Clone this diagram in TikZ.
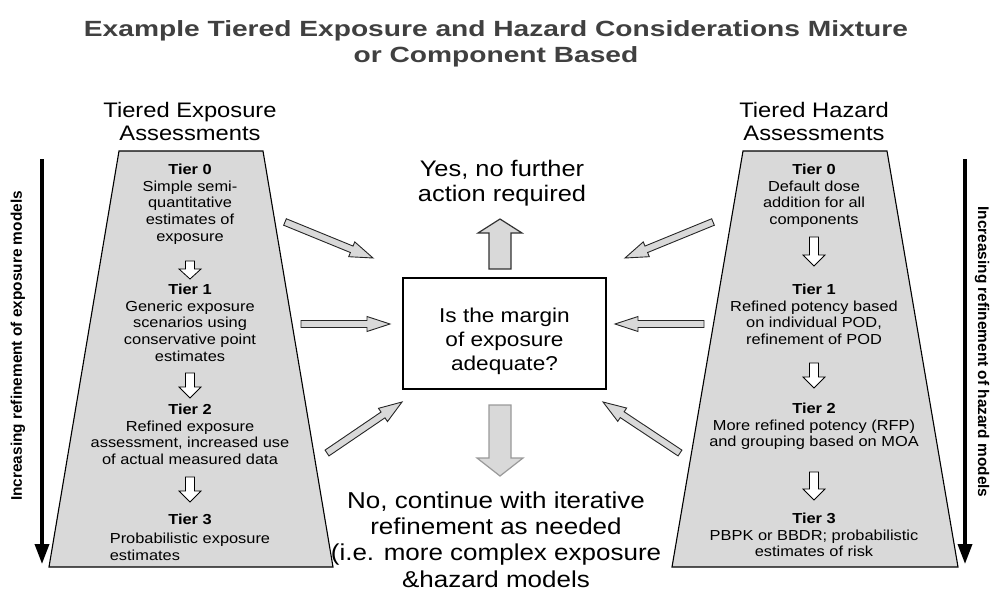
\documentclass[tikz,border=0pt]{standalone}
\usepackage{fontspec}
\setmainfont{Liberation Sans}[FakeStretch=1.13]
\newfontfamily\rotfont{Liberation Sans}
\newfontfamily\titlefont{Liberation Sans}[FakeStretch=1.28]
\usetikzlibrary{calc,arrows.meta}
\definecolor{panel}{RGB}{217,217,217}
\definecolor{titlegray}{RGB}{64,64,64}
% #1 style, #2 tail, #3 tip, #4 half shaft, #5 half head, #6 head length
\newcommand{\blockarrow}[6]{%
  \coordinate (ba-h) at ($(#3)!#6!(#2)$);
  \draw[#1] ($(#2)!#4!90:(#3)$) -- ($(ba-h)!#4!90:(#3)$) -- ($(ba-h)!#5!90:(#3)$) -- (#3)
    -- ($(ba-h)!#5!-90:(#3)$) -- ($(ba-h)!#4!-90:(#3)$) -- ($(#2)!#4!-90:(#3)$) -- cycle;
}
\begin{document}
\begin{tikzpicture}[x=1pt,y=-1pt,line join=miter,
  tier/.style={font={\fontsize{14.5}{16.8}\selectfont},align=center,inner sep=0pt,anchor=north},
  tierhead/.style={font={\bfseries\fontsize{14.5}{16.8}\selectfont},inner sep=0pt,anchor=base},
  header/.style={font={\fontsize{21}{23}\selectfont},align=center,inner sep=0pt,anchor=north},
  answer/.style={align=center,inner sep=0pt,anchor=north},
  sidelabel/.style={font={\rotfont\bfseries\fontsize{15.4}{17}\selectfont},inner sep=0pt},
  panelshape/.style={draw=black,fill=panel,line width=1.1pt},
  diag/.style={draw=black!85,fill=panel,line width=0.9pt},
  small/.style={draw=black,fill=white,line width=0.8pt},
  upblock/.style={draw=black!80,fill=panel,line width=1.2pt},
  downblock/.style={draw=black!40,fill=panel,line width=1.2pt},
  sidearrow/.style={line width=3.5pt,-{Triangle[length=20pt,width=14pt]}}]
\useasboundingbox (0,0) rectangle (992,591);

% title
\node[anchor=north,align=center,inner sep=0pt,text=titlegray,
  font={\titlefont\bfseries\fontsize{22}{26}\selectfont}] (title) at (496,20.2)
  {Example Tiered Exposure and Hazard Considerations Mixture\\or Component Based};

% panels
\coordinate (l1) at (119,151); \coordinate (l2) at (263,151);
\coordinate (l3) at (333,567); \coordinate (l4) at (49,567);
\coordinate (r1) at (743,151); \coordinate (r2) at (887,151);
\coordinate (r3) at (958,567); \coordinate (r4) at (672,567);
\draw[panelshape] (l1) -- (l2) -- (l3) -- (l4) -- cycle;
\draw[panelshape] (r1) -- (r2) -- (r3) -- (r4) -- cycle;

% headers
\node[header] (hexp) at (190,101.9) {Tiered Exposure\\Assessments};
\node[header] (hhaz) at (814,101.9) {Tiered Hazard\\Assessments};

% side arrows and labels
\coordinate (ls) at (42,159); \coordinate (le) at (42,564);
\coordinate (rs) at (965,159); \coordinate (re) at (965,564);
\draw[sidearrow] (ls) -- (le);
\draw[sidearrow] (rs) -- (re);
\node[sidelabel,rotate=90] (lexp) at (18,346) {Increasing refinement of exposure models};
\node[sidelabel,rotate=-90] (lhaz) at (982,352) {Increasing refinement of hazard models};

% exposure tiers
\node[tier] (e0) at (190,163.6) {\textbf{Tier 0}\\Simple semi-\\quantitative\\estimates of\\exposure};
\node[tier] (e1) at (190,283.6) {\textbf{Tier 1}\\Generic exposure\\scenarios using\\conservative point\\estimates};
\node[tier] (e2) at (190,403.6) {\textbf{Tier 2}\\Refined exposure\\assessment, increased use\\of actual measured data};
\node[tierhead] (e3h) at (190,524) {Tier 3};
\node[tier,align=left] (e3) at (190,532.6) {Probabilistic exposure\\estimates};

% hazard tiers
\node[tier] (z0) at (814,163.6) {\textbf{Tier 0}\\Default dose\\addition for all\\components};
\node[tier] (z1) at (814,283.6) {\textbf{Tier 1}\\Refined potency based\\on individual POD,\\refinement of POD};
\node[tier] (z2) at (814,402.6) {\textbf{Tier 2}\\More refined potency (RFP)\\and grouping based on MOA};
\node[tier] (z3) at (814,512.6) {\textbf{Tier 3}\\PBPK or BBDR; probabilistic\\estimates of risk};

% small tier arrows
\coordinate (ea1) at (190,261); \coordinate (eb1) at (190,279);
\coordinate (ea2) at (190,373); \coordinate (eb2) at (190,398);
\coordinate (ea3) at (190,477); \coordinate (eb3) at (190,502);
\coordinate (za1) at (814,237); \coordinate (zb1) at (814,266);
\coordinate (za2) at (814,363); \coordinate (zb2) at (814,388);
\coordinate (za3) at (814,472); \coordinate (zb3) at (814,500);
\blockarrow{small}{ea1}{eb1}{4.5pt}{11pt}{10pt}
\blockarrow{small}{ea2}{eb2}{4.5pt}{11pt}{11pt}
\blockarrow{small}{ea3}{eb3}{4.5pt}{11pt}{11pt}
\blockarrow{small}{za1}{zb1}{4.5pt}{11pt}{11pt}
\blockarrow{small}{za2}{zb2}{4.5pt}{11pt}{11pt}
\blockarrow{small}{za3}{zb3}{4.5pt}{11pt}{11pt}

% centre question
\node[draw=black,line width=1.1pt,minimum width=203pt,minimum height=111pt,inner sep=0pt] (q) at (504.5,333.5) {};
\node[answer,font={\fontsize{20}{24}\selectfont}] (qt) at (504.5,307.6) {Is the margin\\of exposure\\adequate?};

% answers
\node[answer,font={\fontsize{22.5}{25.5}\selectfont}] (yes) at (502,159.8) {Yes, no further\\action required};
\node[answer,font={\fontsize{23}{26.3}\selectfont}] (no) at (496,491.4) {No, continue with iterative\\refinement as needed\\(i.e. more complex exposure\\\&hazard models};

% up and down block arrows
\coordinate (ut) at (500,269); \coordinate (uh) at (500,219);
\coordinate (dt) at (500,405); \coordinate (dh) at (500,476);
\blockarrow{upblock}{ut}{uh}{11pt}{22pt}{14pt}
\blockarrow{downblock}{dt}{dh}{11pt}{23pt}{18pt}

% diagonal arrows into the question
\coordinate (a1t) at (285,222); \coordinate (a1h) at (373,258);
\coordinate (a2t) at (301,324); \coordinate (a2h) at (390,324);
\coordinate (a3t) at (327,453); \coordinate (a3h) at (402,402);
\coordinate (b1t) at (713,222); \coordinate (b1h) at (625,258);
\coordinate (b2t) at (704,324); \coordinate (b2h) at (615,324);
\coordinate (b3t) at (680,453); \coordinate (b3h) at (603,402);
\blockarrow{diag}{a1t}{a1h}{3.5pt}{8pt}{23pt}
\blockarrow{diag}{a2t}{a2h}{3.5pt}{7.5pt}{23pt}
\blockarrow{diag}{a3t}{a3h}{3.5pt}{8pt}{23pt}
\blockarrow{diag}{b1t}{b1h}{3.5pt}{8pt}{23pt}
\blockarrow{diag}{b2t}{b2h}{3.5pt}{7.5pt}{23pt}
\blockarrow{diag}{b3t}{b3h}{3.5pt}{8pt}{23pt}
\end{tikzpicture}
\end{document}
